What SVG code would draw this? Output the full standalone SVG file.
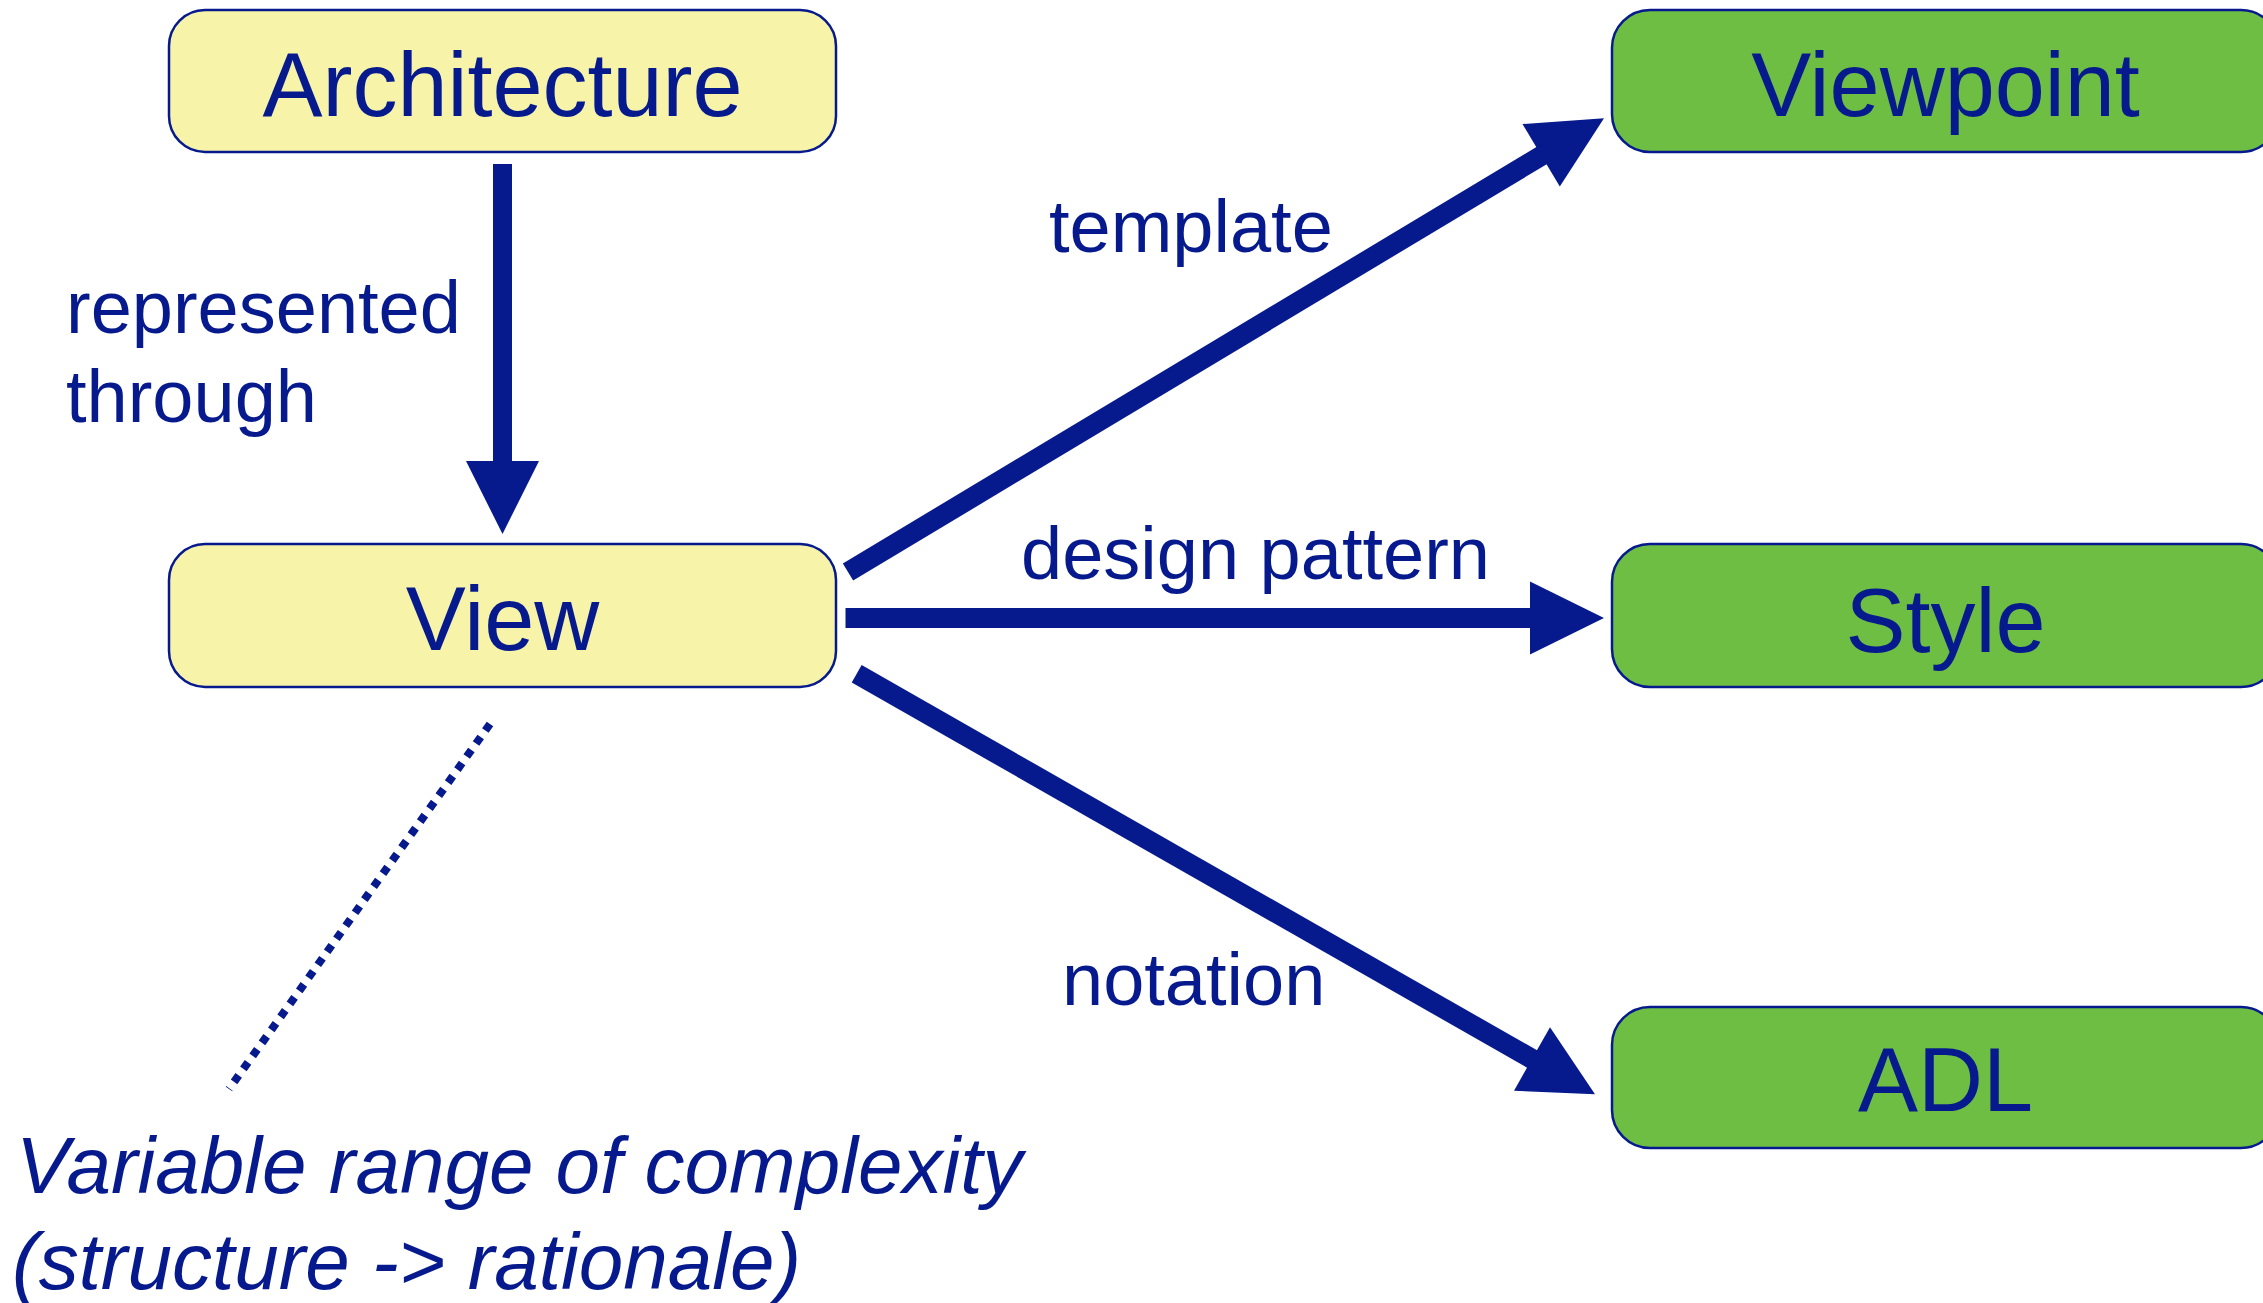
<svg xmlns="http://www.w3.org/2000/svg" width="2263" height="1303" viewBox="0 0 2263 1303">
<style>
.box-y{fill:#F7F3A9;stroke:#061A8E;stroke-width:2.5}
.box-g{fill:#6FBE44;stroke:#061A8E;stroke-width:2.5}
.node-t{font-family:"Liberation Sans",Arial,sans-serif;font-size:90px;fill:#061A8E;text-anchor:middle}
.lbl{font-family:"Liberation Sans",Arial,sans-serif;font-size:74px;fill:#061A8E}
.note{font-family:"Liberation Sans",Arial,sans-serif;font-size:80px;font-style:italic;fill:#061A8E}
.shaft{stroke:#061A8E;stroke-width:20;fill:none}
.head{fill:#061A8E}
.dots{stroke:#061A8E;stroke-width:8;stroke-dasharray:8 8;fill:none}
</style>
<rect width="2263" height="1303" fill="#FFFFFF"/>
<g id="connectors">
  <g id="arch-view">
    <line class="shaft" x1="502.5" y1="164" x2="502.5" y2="462" style="stroke-width:19"/>
    <polygon class="head" points="466,461 539,461 502.5,534"/>
  </g>
  <g id="view-viewpoint">
    <line class="shaft" x1="848" y1="572" x2="1542" y2="155.4"/>
    <polygon class="head" points="1522.5,124.1 1604,118.3 1559.8,186.6"/>
  </g>
  <g id="view-style">
    <line class="shaft" x1="845.5" y1="618" x2="1531" y2="618"/>
    <polygon class="head" points="1530,581.5 1604,618 1530,654.5"/>
  </g>
  <g id="view-adl">
    <line class="shaft" x1="856.7" y1="673.8" x2="1533" y2="1059.5"/>
    <polygon class="head" points="1550,1027.3 1595,1094.3 1514,1090.7"/>
  </g>
  <text class="lbl" x="66" y="333">represented</text>
  <text class="lbl" x="66" y="422">through</text>
  <text class="lbl" x="1049" y="252">template</text>
  <text class="lbl" x="1021" y="579">design pattern</text>
  <text class="lbl" x="1062" y="1005">notation</text>
</g>
<g id="architecture">
  <rect class="box-y" x="169" y="10" width="667" height="142" rx="36" ry="36"/>
  <text class="node-t" x="502.5" y="116">Architecture</text>
</g>
<g id="view">
  <rect class="box-y" x="169" y="544" width="667" height="143" rx="36" ry="36"/>
  <text class="node-t" x="502.5" y="650">View</text>
</g>
<g id="viewpoint">
  <rect class="box-g" x="1612" y="10" width="667" height="142" rx="38" ry="38"/>
  <text class="node-t" x="1945.5" y="116">Viewpoint</text>
</g>
<g id="style">
  <rect class="box-g" x="1612" y="544" width="667" height="143" rx="38" ry="38"/>
  <text class="node-t" x="1945.5" y="652">Style</text>
</g>
<g id="adl">
  <rect class="box-g" x="1612" y="1007" width="667" height="141" rx="38" ry="38"/>
  <text class="node-t" x="1945.5" y="1111">ADL</text>
</g>
<g id="annotation">
  <line class="dots" x1="490" y1="724" x2="229" y2="1089"/>
  <text class="note" x="16" y="1193">Variable range of complexity</text>
  <text class="note" x="12" y="1289">(structure -&gt; rationale)</text>
</g>
</svg>
